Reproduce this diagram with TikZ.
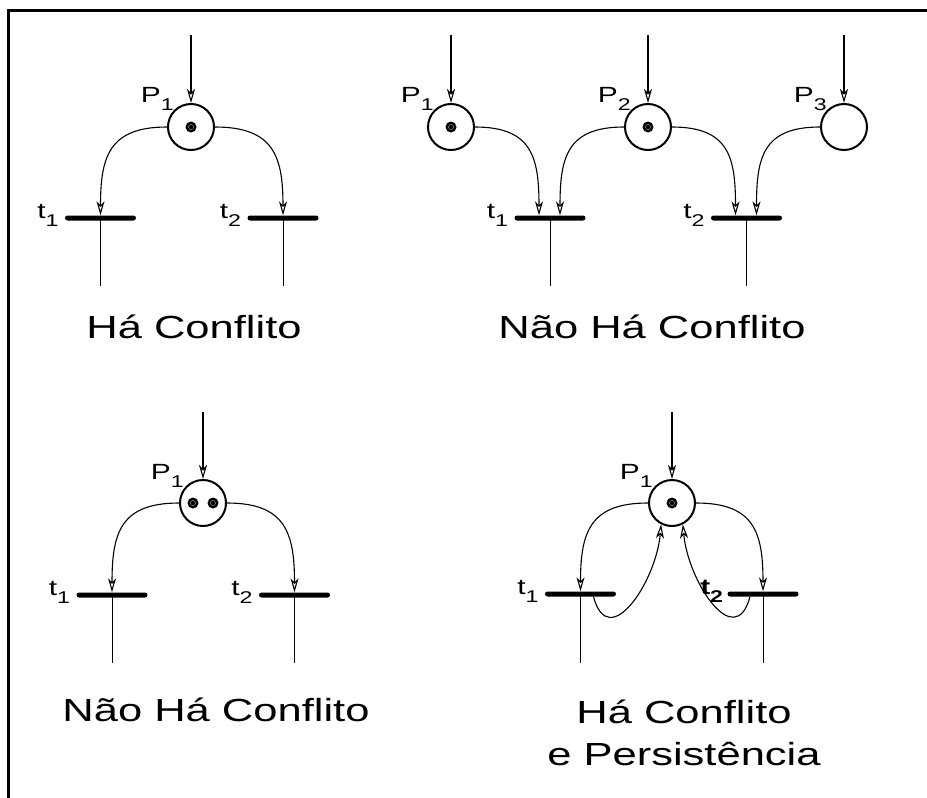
\documentclass[tikz,border=0pt]{standalone}
\usepackage{fontspec}
\newfontfamily\widesans[FakeStretch=1.36]{Liberation Sans}
\usetikzlibrary{positioning,arrows.meta}
\newcommand{\sbs}[2]{#1\raisebox{-8pt}{\fontsize{17}{17}\selectfont #2}}

\begin{document}
\begin{tikzpicture}[x=1pt,y=-1pt,>={Stealth[open,length=14pt,width=8pt,inset=4pt]},
  place/.style={circle,draw,line width=2pt,minimum size=46pt,inner sep=0},
  trans/.style={rectangle,fill=black,rounded corners=2.5pt,minimum width=71pt,minimum height=5pt,inner sep=0},
  tok/.style={circle,fill=black,minimum size=11pt,inner sep=0,path picture={\draw[gray,line width=.5pt] (path picture bounding box.center) circle (2.6pt);}},
  flow/.style={->,line width=1.1pt},
  outl/.style={line width=1pt},
  lab/.style={font=\widesans\fontsize{22}{26}\selectfont,inner sep=0},
  capt/.style={font=\widesans\fontsize{32}{40}\selectfont,inner sep=0,anchor=base}]
\useasboundingbox (0,0) rectangle (927,798);
\draw[line width=3pt] (8,798) -- (8,10) -- (927,10);

% Ha Conflito
\node[place] (a) at (191,127) {}; \node[tok] at (a) {};
\node[trans] (a1) at (100.5,218) {}; \node[trans] (a2) at (283,218) {};
\coordinate (ain) at (191,35); \coordinate (a1o) at (100.5,286); \coordinate (a2o) at (283,286);
\draw[flow] (ain) -- (a);
\draw[flow] (a.west) to[out=180,in=90,looseness=1.35] (a1.north);
\draw[flow] (a.east) to[out=0,in=90,looseness=1.35] (a2.north);
\draw[outl] (a1.center) -- (a1o); \draw[outl] (a2.center) -- (a2o);
\node[lab,anchor=base east] at ([xshift=-17pt,yshift=25pt]a.center) {\sbs{P}{1}};
\node[lab,anchor=base east] at ([xshift=-6pt]a1.west) {\sbs{t}{1}};
\node[lab,anchor=base east] at ([xshift=-6pt]a2.west) {\sbs{t}{2}};
\node[capt] (capa) at (194,338) {Há Conflito};

% Nao Ha Conflito (tres lugares)
\node[place] (b1) at (451,127) {}; \node[tok] at (b1) {};
\node[place] (b2) at (648,127) {}; \node[tok] at (b2) {};
\node[place] (b3) at (844,127) {};
\node[trans] (bt1) at (550,218) {}; \node[trans] (bt2) at (746.5,218) {};
\foreach \p/\x in {b1/451,b2/648,b3/844}{
  \coordinate (\p in) at (\x,35);
  \draw[flow] (\p in) -- (\p);
}
\node[lab,anchor=base east] at ([xshift=-17pt,yshift=25pt]b1.center) {\sbs{P}{1}};
\node[lab,anchor=base east] at ([xshift=-17pt,yshift=25pt]b2.center) {\sbs{P}{2}};
\node[lab,anchor=base east] at ([xshift=-17pt,yshift=25pt]b3.center) {\sbs{P}{3}};
\coordinate (bt1o) at (550,286); \coordinate (bt2o) at (746.5,286);
\draw[flow] (b1.east) to[out=0,in=90,looseness=1.35] ([xshift=-11pt]bt1.north);
\draw[flow] (b2.west) to[out=180,in=90,looseness=1.35] ([xshift=10pt]bt1.north);
\draw[flow] (b2.east) to[out=0,in=90,looseness=1.35] ([xshift=-11pt]bt2.north);
\draw[flow] (b3.west) to[out=180,in=90,looseness=1.35] ([xshift=10pt]bt2.north);
\draw[outl] (bt1.center) -- (bt1o); \draw[outl] (bt2.center) -- (bt2o);
\node[lab,anchor=base east] at ([xshift=-6pt]bt1.west) {\sbs{t}{1}};
\node[lab,anchor=base east] at ([xshift=-6pt]bt2.west) {\sbs{t}{2}};
\node[capt] (capb) at (652,338) {Não Há Conflito};

% Nao Ha Conflito (duas marcas)
\node[place] (c) at (203,503) {};
\node[tok] at ([xshift=-10pt]c.center) {}; \node[tok] at ([xshift=10pt]c.center) {};
\node[trans] (c1) at (112,595) {}; \node[trans] (c2) at (294.5,595) {};
\coordinate (cin) at (203,412); \coordinate (c1o) at (112,663); \coordinate (c2o) at (294.5,663);
\draw[flow] (cin) -- (c);
\draw[flow] (c.west) to[out=180,in=90,looseness=1.35] (c1.north);
\draw[flow] (c.east) to[out=0,in=90,looseness=1.35] (c2.north);
\draw[outl] (c1.center) -- (c1o); \draw[outl] (c2.center) -- (c2o);
\node[lab,anchor=base east] at ([xshift=-19pt,yshift=24pt]c.center) {\sbs{P}{1}};
\node[lab,anchor=base east] at ([xshift=-6pt]c1.west) {\sbs{t}{1}};
\node[lab,anchor=base east] at ([xshift=-6pt]c2.west) {\sbs{t}{2}};
\node[capt] (capc) at (216,721) {Não Há Conflito};

% Ha Conflito e Persistencia
\node[place] (d) at (672,503) {}; \node[tok] at (d) {};
\node[trans] (d1) at (580.5,594) {}; \node[trans] (d2) at (763,594) {};
\coordinate (din) at (672,412); \coordinate (d1o) at (580.5,663); \coordinate (d2o) at (763,663);
\draw[flow] (din) -- (d);
\draw[flow] (d.west) to[out=180,in=90,looseness=1.35] (d1.north);
\draw[flow] (d.east) to[out=0,in=90,looseness=1.35] (d2.north);
\draw[flow] ([xshift=13pt]d1.south) to[out=-75,in=-95,looseness=1.5] (d.243);
\draw[flow] ([xshift=-13pt]d2.south) to[out=-105,in=-85,looseness=1.5] (d.297);
\draw[outl] (d1.center) -- (d1o); \draw[outl] (d2.center) -- (d2o);
\node[lab,anchor=base east] at ([xshift=-19pt,yshift=24pt]d.center) {\sbs{P}{1}};
\node[lab,anchor=base east] at ([xshift=-6pt]d1.west) {\sbs{t}{1}};
\node[lab,anchor=base east,font=\widesans\bfseries\fontsize{22}{26}\selectfont] at ([xshift=-4pt]d2.west) {\sbs{t}{2}};
\node[capt] (capd) at (684,723) {Há Conflito};
\node[capt] (cape) at (684,765) {e Persistência};
\end{tikzpicture}
\end{document}
